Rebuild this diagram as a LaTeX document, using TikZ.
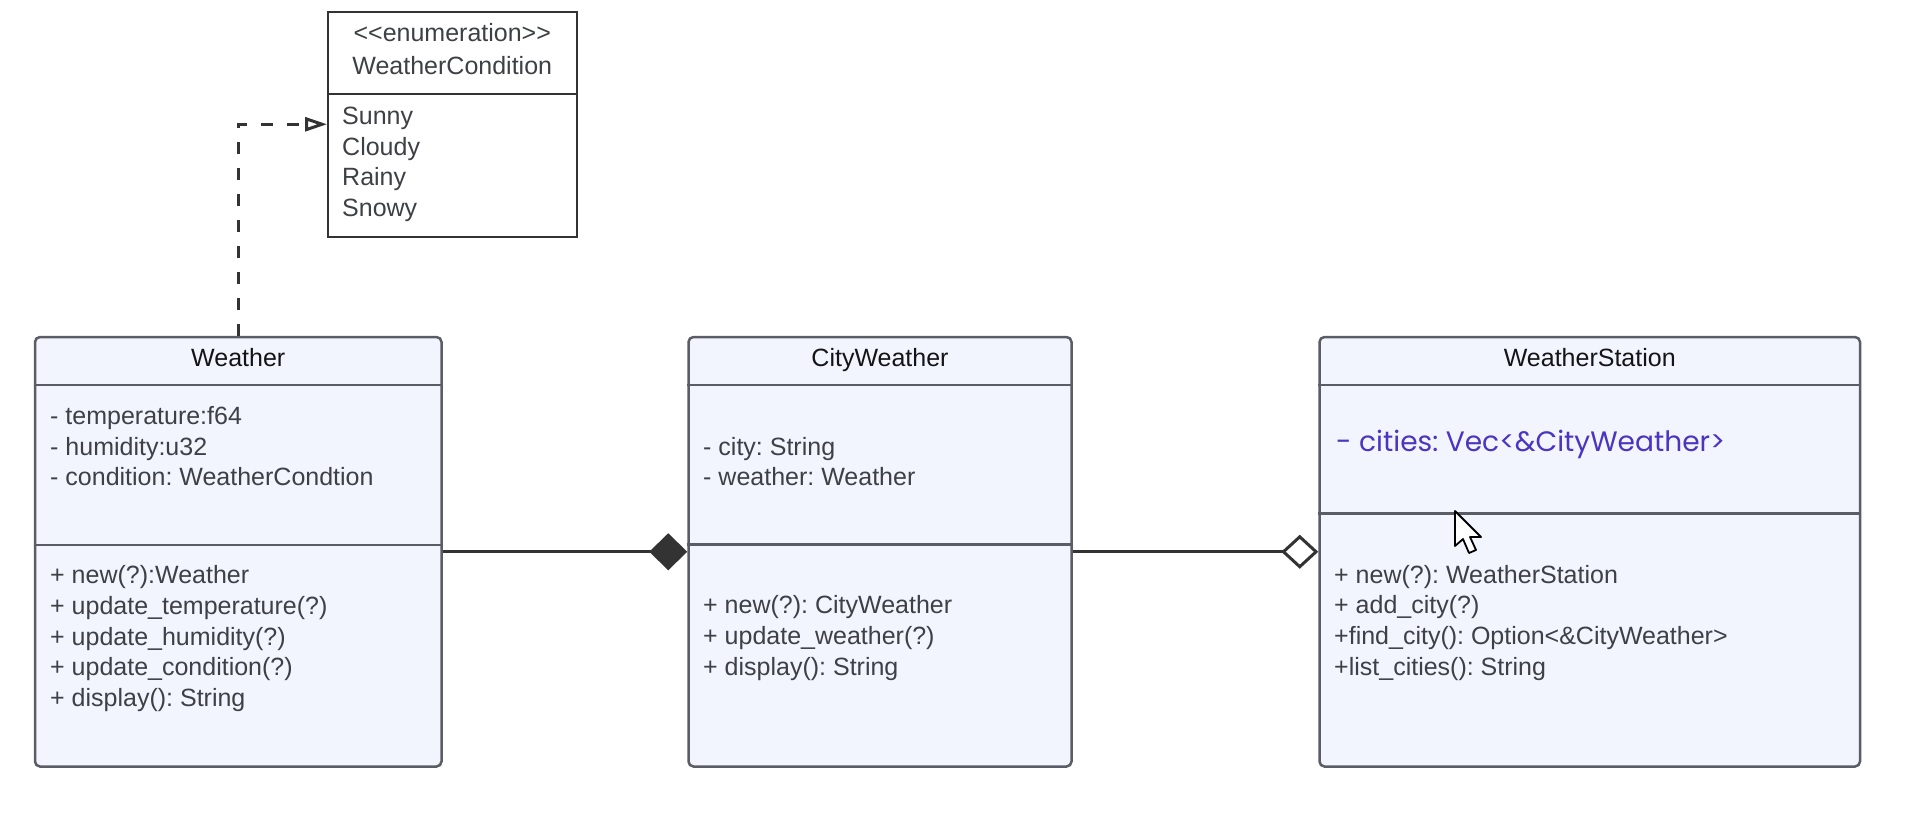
\documentclass[tikz,border=0pt]{standalone}
\usepackage{fontspec}
\setmainfont{Liberation Sans}
\newfontfamily\citiesfont{Poppins}
\usetikzlibrary{arrows.meta}
\definecolor{boxfill}{RGB}{242,245,254}
\definecolor{boxline}{RGB}{90,93,102}
\definecolor{txtcol}{RGB}{62,64,70}
\definecolor{ttlcol}{RGB}{20,20,22}
\definecolor{linkcol}{RGB}{51,51,51}
\definecolor{citycol}{RGB}{74,52,192}
\frenchspacing
\begin{document}
\begin{tikzpicture}[x=1pt,y=-1pt,
  classbox/.style={draw=boxline, line width=2.5pt, fill=boxfill, rounded corners=5pt, inner sep=0pt},
  enumbox/.style={draw=linkcol, line width=2pt, fill=white, inner sep=0pt},
  sepline/.style={draw=boxline, line width=2.5pt},
  enumsep/.style={draw=linkcol, line width=2pt},
  txt/.style={anchor=base west, inner sep=0pt, text=txtcol, font=\fontsize{25}{30}\selectfont},
  ttl/.style={anchor=base, inner sep=0pt, text=ttlcol, font=\fontsize{25}{30}\selectfont},
  link/.style={draw=linkcol, line width=3pt},
]
\useasboundingbox[fill=white] (0,0) rectangle (1909,831);

% class boxes
\node[classbox, minimum width=406.5pt, minimum height=429.5pt] (weather) at (238.25,551.75) {};
\node[classbox, minimum width=383pt, minimum height=429.5pt] (city) at (880,551.75) {};
\node[classbox, minimum width=540.5pt, minimum height=429.5pt] (station) at (1589.75,551.75) {};
\node[enumbox, minimum width=248.5pt, minimum height=224.5pt] (enum) at (452.25,124.25) {};

% separators
\draw[sepline] (weather.west |- 0,385) -- (weather.east |- 0,385);
\draw[sepline] (weather.west |- 0,545) -- (weather.east |- 0,545);
\draw[sepline] (city.west |- 0,385) -- (city.east |- 0,385);
\draw[sepline] (city.west |- 0,544.5) -- (city.east |- 0,544.5);
\draw[sepline] (station.west |- 0,385) -- (station.east |- 0,385);
\draw[sepline] (station.west |- 0,513.5) -- (station.east |- 0,513.5);
\draw[enumsep] (enum.west |- 0,93.5) -- (enum.east |- 0,93.5);

% enumeration text
\node[ttl, text=txtcol] (e-st) at (452.25,41) {<\kern0pt<enumeration>\kern0pt>};
\node[ttl, text=txtcol] (e-t) at (452.25,74) {WeatherCondition};
\node[txt] (e-1) at (342,124) {Sunny};
\node[txt] (e-2) at (342,155) {Cloudy};
\node[txt] (e-3) at (342,185.7) {Rainy};
\node[txt] (e-4) at (342,216.7) {Snowy};

% Weather
\node[ttl] (w-t) at (238.25,366) {Weather};
\node[txt] (w-a1) at (50,424) {- temperature:f64};
\node[txt] (w-a2) at (50,455) {- humidity:u32};
\node[txt] (w-a3) at (50,485.7) {- condition: WeatherCondtion};
\node[txt] (w-m1) at (50,583.3) {+ new(?):Weather};
\node[txt] (w-m2) at (50,614) {+ update\_temperature(?)};
\node[txt] (w-m3) at (50,645) {+ update\_humidity(?)};
\node[txt] (w-m4) at (50,675.5) {+ update\_condition(?)};
\node[txt] (w-m5) at (50,706.5) {+ display(): String};

% CityWeather
\node[ttl] (c-t) at (880,366) {CityWeather};
\node[txt] (c-a1) at (703,455) {- city: String};
\node[txt] (c-a2) at (703,485.7) {- weather: Weather};
\node[txt] (c-m1) at (703,613.5) {+ new(?): CityWeather};
\node[txt] (c-m2) at (703,644.3) {+ update\_weather(?)};
\node[txt] (c-m3) at (703,675) {+ display(): String};

% WeatherStation
\node[ttl] (s-t) at (1589.75,366) {WeatherStation};
\node[anchor=base west, inner sep=0pt, text=citycol] (s-a1) at (1336,451)
  {\resizebox{389pt}{!}{\citiesfont - cities: Vec<\&CityWeather>}};
\node[txt] (s-m1) at (1334,583) {+ new(?): WeatherStation};
\node[txt] (s-m2) at (1334,613.7) {+ add\_city(?)};
\node[txt] (s-m3) at (1334,644.3) {+find\_city(): Option<\&CityWeather>};
\node[txt] (s-m4) at (1334,675) {+list\_cities(): String};

% connectors
\draw[link, -{Diamond[length=38pt,width=37pt,fill=linkcol]}] (weather.east) -- (city.west);
\draw[link, -{Diamond[length=37pt,width=34pt,fill=white]}] (city.east) -- (station.west);
\draw[link, line width=3pt, dash pattern=on 12pt off 14pt,
  -{Triangle[length=22pt,width=14pt,fill=white]}] (weather.north) |- (enum.west);

% mouse cursor
\draw[fill=white, draw=black, line width=1.8pt, line join=round]
  (1455,511) -- (1455,546) -- (1463,539) -- (1469,553) -- (1476,550)
  -- (1470,537) -- (1481,537) -- cycle;
\end{tikzpicture}
\end{document}
